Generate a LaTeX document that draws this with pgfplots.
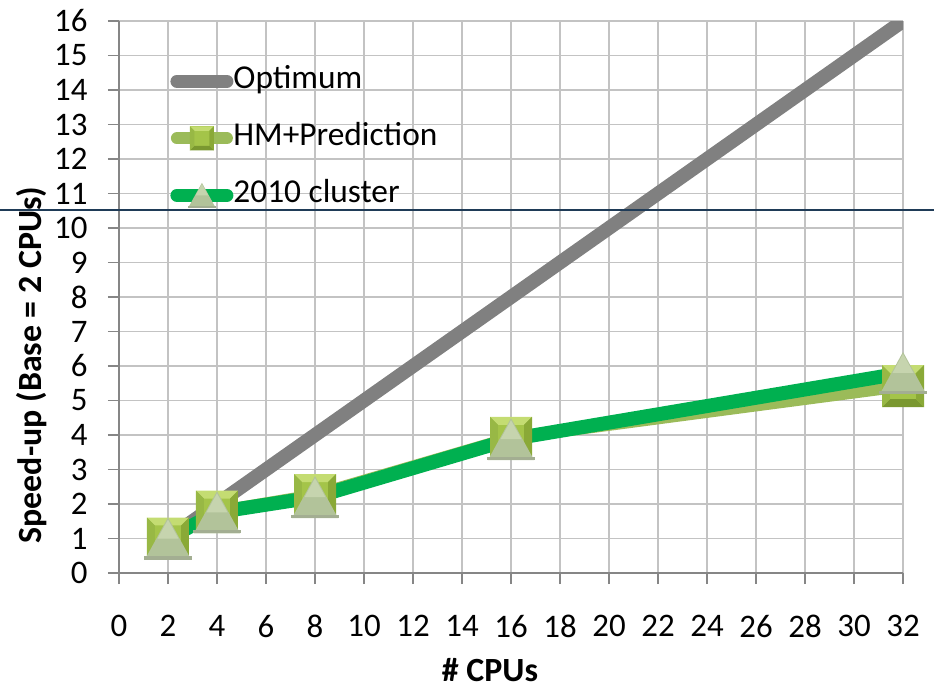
\documentclass[border=0pt]{standalone}
\usepackage{pgfplots}
\pgfplotsset{compat=1.18}
\usepackage{fontspec}
\setmainfont{Carlito}

\definecolor{optgray}{HTML}{808080}
\definecolor{hmolive}{HTML}{9BBB59}
\definecolor{clgreen}{HTML}{00B050}
\definecolor{gridgray}{HTML}{C3C3C3}
\definecolor{axgray}{HTML}{868686}
\definecolor{rulenavy}{HTML}{1F3B57}
% bevelled square facets
\definecolor{sqcenter}{HTML}{A4C449}
\definecolor{sqtop}{HTML}{C4DC72}
\definecolor{sqbottom}{HTML}{7A9830}
\definecolor{sqleft}{HTML}{98B845}
\definecolor{sqright}{HTML}{8AA937}
% soft triangle shades
\definecolor{trimain}{HTML}{B2C39A}
\definecolor{trilight}{HTML}{C6D4AE}
\definecolor{tribase}{HTML}{A3AE92}

\pgfdeclareplotmark{bevelsquare}{%
  \pgfsetfillcolor{sqcenter}%
  \pgfpathrectangle{\pgfpoint{-\pgfplotmarksize}{-\pgfplotmarksize}}{\pgfpoint{2\pgfplotmarksize}{2\pgfplotmarksize}}%
  \pgfusepath{fill}%
  \pgfsetfillcolor{sqtop}%
  \pgfpathmoveto{\pgfpoint{-\pgfplotmarksize}{\pgfplotmarksize}}%
  \pgfpathlineto{\pgfpoint{\pgfplotmarksize}{\pgfplotmarksize}}%
  \pgfpathlineto{\pgfpoint{0.62\pgfplotmarksize}{0.62\pgfplotmarksize}}%
  \pgfpathlineto{\pgfpoint{-0.62\pgfplotmarksize}{0.62\pgfplotmarksize}}%
  \pgfpathclose\pgfusepath{fill}%
  \pgfsetfillcolor{sqbottom}%
  \pgfpathmoveto{\pgfpoint{-\pgfplotmarksize}{-\pgfplotmarksize}}%
  \pgfpathlineto{\pgfpoint{\pgfplotmarksize}{-\pgfplotmarksize}}%
  \pgfpathlineto{\pgfpoint{0.62\pgfplotmarksize}{-0.62\pgfplotmarksize}}%
  \pgfpathlineto{\pgfpoint{-0.62\pgfplotmarksize}{-0.62\pgfplotmarksize}}%
  \pgfpathclose\pgfusepath{fill}%
  \pgfsetfillcolor{sqleft}%
  \pgfpathmoveto{\pgfpoint{-\pgfplotmarksize}{-\pgfplotmarksize}}%
  \pgfpathlineto{\pgfpoint{-\pgfplotmarksize}{\pgfplotmarksize}}%
  \pgfpathlineto{\pgfpoint{-0.62\pgfplotmarksize}{0.62\pgfplotmarksize}}%
  \pgfpathlineto{\pgfpoint{-0.62\pgfplotmarksize}{-0.62\pgfplotmarksize}}%
  \pgfpathclose\pgfusepath{fill}%
  \pgfsetfillcolor{sqright}%
  \pgfpathmoveto{\pgfpoint{\pgfplotmarksize}{-\pgfplotmarksize}}%
  \pgfpathlineto{\pgfpoint{\pgfplotmarksize}{\pgfplotmarksize}}%
  \pgfpathlineto{\pgfpoint{0.62\pgfplotmarksize}{0.62\pgfplotmarksize}}%
  \pgfpathlineto{\pgfpoint{0.62\pgfplotmarksize}{-0.62\pgfplotmarksize}}%
  \pgfpathclose\pgfusepath{fill}%
}

\pgfdeclareplotmark{softtriangle}{%
  \pgfsetfillcolor{trimain}%
  \pgfpathmoveto{\pgfpoint{0pt}{\pgfplotmarksize}}%
  \pgfpathlineto{\pgfpoint{1.1\pgfplotmarksize}{-\pgfplotmarksize}}%
  \pgfpathlineto{\pgfpoint{-1.1\pgfplotmarksize}{-\pgfplotmarksize}}%
  \pgfpathclose\pgfusepath{fill}%
  \pgfsetfillcolor{trilight}%
  \pgfpathmoveto{\pgfpoint{0pt}{0.9\pgfplotmarksize}}%
  \pgfpathlineto{\pgfpoint{0.5\pgfplotmarksize}{0pt}}%
  \pgfpathlineto{\pgfpoint{-0.5\pgfplotmarksize}{0pt}}%
  \pgfpathclose\pgfusepath{fill}%
  \pgfsetfillcolor{tribase}%
  \pgfpathrectangle{\pgfpoint{-1.12\pgfplotmarksize}{-\pgfplotmarksize}}{\pgfpoint{2.24\pgfplotmarksize}{0.16\pgfplotmarksize}}%
  \pgfusepath{fill}%
}

\begin{document}
\begin{tikzpicture}
\begin{axis}[
  scale only axis,
  width=784bp, height=552bp,
  xmin=0, xmax=32, ymin=0, ymax=16,
  xtick={0,2,...,32}, ytick={0,1,...,16},
  axis lines*=left,
  axis line style={axgray, line width=2bp},
  grid=major,
  grid style={gridgray, line width=1.6bp},
  tick align=outside,
  major tick length=11bp,
  tick style={axgray, line width=1.6bp},
  ticklabel style={font=\fontsize{33}{38}\selectfont},
  /pgf/number format/assume math mode=true,
  xticklabel style={yshift=-28bp},
  yticklabel style={xshift=-17bp},
  xlabel={\# CPUs},
  ylabel={Speed-up (Base = 2 CPUs)},
  label style={font=\fontsize{34}{40}\selectfont\bfseries, inner sep=0pt},
  xlabel style={at={(axis description cs:0.4732,-0.1755)}, anchor=center},
  ylabel style={at={(axis description cs:-0.1116,0.3768)}, anchor=center},
  legend cell align=left,
  legend style={draw=none, fill=none, inner sep=0pt, outer sep=0pt,
    at={(axis description cs:0.0656,0.917)}, anchor=north west,
    font=\fontsize{33.5}{39}\selectfont,
    row sep=28bp,
    nodes={inner sep=0bp, text height=22bp, text depth=7bp},
    /tikz/every even column/.append style={column sep=13bp}},
]
\coordinate (bbSW) at (axis cs:-4.857,-3.362);
\coordinate (bbNE) at (axis cs:33.265,16.609);
\coordinate (ruleW) at (axis cs:-4.857,10.52);
\coordinate (ruleE) at (axis cs:33.265,10.52);

\addplot[optgray, line width=14bp, line join=round,
  legend image code/.code={\draw[optgray, line width=13bp, line cap=round] (0bp,0bp) -- (50bp,0bp);}]
  coordinates {(2,1) (4,2) (8,4) (16,8) (32,16)};
\addlegendentry{Optimum}

\addplot[hmolive, line width=12bp, line join=round, mark=bevelsquare, mark size=21bp,
  legend image code/.code={\draw[hmolive, line width=12bp, line cap=round] (0bp,0bp) -- (50bp,0bp);
    \path[mark size=12bp] plot[mark=bevelsquare] coordinates {(25bp,0bp)};}]
  coordinates {(2,1.0) (4,1.78) (8,2.26) (16,3.92) (32,5.42)};
\addlegendentry{HM+Prediction}

\addplot[clgreen, line width=14bp, line join=round, mark=softtriangle, mark size=21bp,
  legend image code/.code={\draw[clgreen, line width=13bp, line cap=round] (0bp,0bp) -- (50bp,0bp);
    \path[mark size=12.5bp] plot[mark=softtriangle] coordinates {(25bp,0bp)};}]
  coordinates {(2,1.0) (4,1.76) (8,2.2) (16,3.88) (32,5.8)};
\addlegendentry{2010 cluster}
\end{axis}
\draw[rulenavy, line width=1.5bp] (ruleW) -- (ruleE);
\pgfresetboundingbox
\path[use as bounding box] (bbSW) rectangle (bbNE);
\end{tikzpicture}
\end{document}
